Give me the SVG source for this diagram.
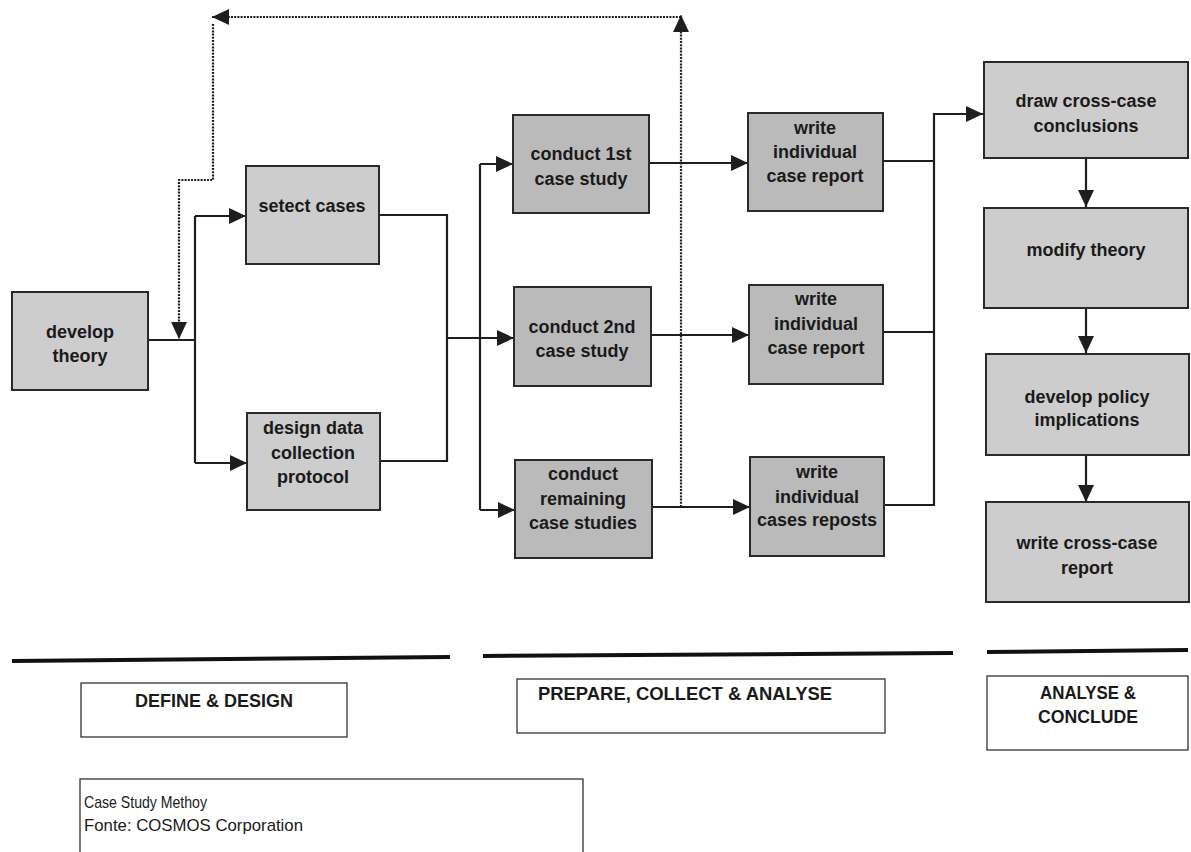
<svg xmlns="http://www.w3.org/2000/svg" width="1191" height="852" viewBox="0 0 1191 852">
<defs>
<marker id="ah" markerUnits="userSpaceOnUse" markerWidth="18" markerHeight="16" refX="17" refY="8" orient="auto" viewBox="0 0 18 16">
<path d="M0,0 L17,8 L0,16 z" fill="#1e1e1e"/>
</marker>
</defs>
<style>
.box{stroke:#2a2a2a;stroke-width:2}
.lt{fill:#cdcdcd}
.dk{fill:#bababa}
.t{font-family:"Liberation Sans",Arial,sans-serif;font-weight:bold;font-size:18px;fill:#1a1a1a;text-anchor:middle}
.c{fill:none;stroke:#1e1e1e;stroke-width:2.2}
.d{fill:none;stroke:#1e1e1e;stroke-width:2.2;stroke-dasharray:2 1.2}
.lbl{fill:#fff;stroke:#333;stroke-width:1.3}
.lt2{font-family:"Liberation Sans",Arial,sans-serif;font-weight:bold;font-size:18px;fill:#1a1a1a;text-anchor:middle}
.n{font-family:"Liberation Sans",Arial,sans-serif;font-size:17px;fill:#1a1a1a}
.bar{stroke:#111;stroke-width:4;fill:none}
</style>
<g id="connectors">
<path class="c" d="M148,340 H195"/>
<path class="c" d="M195,216 V463"/>
<path class="c" d="M195,216 H246" marker-end="url(#ah)"/>
<path class="c" d="M195,463 H247" marker-end="url(#ah)"/>
<path class="c" d="M379,215 H447 V461 H380"/>
<path class="c" d="M447,338 H514" marker-end="url(#ah)"/>
<path class="c" d="M480,164 V510"/>
<path class="c" d="M480,164 H513" marker-end="url(#ah)"/>
<path class="c" d="M480,510 H515" marker-end="url(#ah)"/>
<path class="c" d="M649,163 H748" marker-end="url(#ah)"/>
<path class="c" d="M651,335 H749" marker-end="url(#ah)"/>
<path class="c" d="M652,507 H750" marker-end="url(#ah)"/>
<path class="c" d="M883,161 H934"/>
<path class="c" d="M883,332 H934"/>
<path class="c" d="M884,505 H934 V114 H983" marker-end="url(#ah)"/>
<path class="c" d="M1086,158 V207" marker-end="url(#ah)"/>
<path class="c" d="M1086,308 V353" marker-end="url(#ah)"/>
<path class="c" d="M1086,455 V502" marker-end="url(#ah)"/>
<path class="d" d="M681,507 V15" marker-end="url(#ah)"/>
<path class="d" d="M681,17 H212" marker-end="url(#ah)" style="stroke-width:1.8"/>
<path class="d" d="M213,24 V180 H179 V339" marker-end="url(#ah)"/>
</g>
<g id="develop-theory"><rect class="box lt" x="12" y="292" width="136" height="98"/><text class="t" x="80" y="338">develop</text><text class="t" x="80" y="362">theory</text></g>
<g id="select-cases"><rect class="box lt" x="246" y="166" width="133" height="98"/><text class="t" x="312" y="212">setect cases</text></g>
<g id="design-data"><rect class="box lt" x="247" y="413" width="133" height="97"/><text class="t" x="313" y="434">design data</text><text class="t" x="313" y="459">collection</text><text class="t" x="313" y="483">protocol</text></g>
<g id="conduct-1st"><rect class="box dk" x="513" y="115" width="136" height="98"/><text class="t" x="581" y="160">conduct 1st</text><text class="t" x="581" y="185">case study</text></g>
<g id="conduct-2nd"><rect class="box dk" x="514" y="287" width="137" height="99"/><text class="t" x="582" y="333">conduct 2nd</text><text class="t" x="582" y="357">case study</text></g>
<g id="conduct-remaining"><rect class="box dk" x="515" y="460" width="137" height="98"/><text class="t" x="583" y="480">conduct</text><text class="t" x="583" y="505">remaining</text><text class="t" x="583" y="529">case studies</text></g>
<g id="write-1"><rect class="box dk" x="748" y="113" width="135" height="98"/><text class="t" x="815" y="134">write</text><text class="t" x="815" y="158">individual</text><text class="t" x="815" y="182">case report</text></g>
<g id="write-2"><rect class="box dk" x="749" y="285" width="134" height="99"/><text class="t" x="816" y="305">write</text><text class="t" x="816" y="330">individual</text><text class="t" x="816" y="354">case report</text></g>
<g id="write-3"><rect class="box dk" x="750" y="457" width="134" height="99"/><text class="t" x="817" y="478">write</text><text class="t" x="817" y="503">individual</text><text class="t" x="817" y="526">cases reposts</text></g>
<g id="draw-cross-case"><rect class="box lt" x="984" y="62" width="204" height="96"/><text class="t" x="1086" y="107">draw cross-case</text><text class="t" x="1086" y="132">conclusions</text></g>
<g id="modify-theory"><rect class="box lt" x="984" y="208" width="204" height="100"/><text class="t" x="1086" y="256">modify theory</text></g>
<g id="develop-policy"><rect class="box lt" x="986" y="354" width="203" height="101"/><text class="t" x="1087" y="403">develop policy</text><text class="t" x="1087" y="426">implications</text></g>
<g id="write-cross-case"><rect class="box lt" x="986" y="502" width="203" height="100"/><text class="t" x="1087" y="549">write cross-case</text><text class="t" x="1087" y="574">report</text></g>
<path class="bar" d="M12,661 L450,657"/>
<path class="bar" d="M483,656 L953,653"/>
<path class="bar" d="M987,652 L1188,650"/>
<g id="define-design"><rect class="lbl" x="81" y="683" width="266" height="54"/><text class="lt2" x="214" y="707" textLength="158" lengthAdjust="spacingAndGlyphs">DEFINE &amp; DESIGN</text></g>
<g id="prepare"><rect class="lbl" x="517" y="679" width="368" height="54"/><text class="lt2" x="685" y="700" textLength="294" lengthAdjust="spacingAndGlyphs">PREPARE, COLLECT &amp; ANALYSE</text></g>
<g id="analyse"><rect class="lbl" x="987" y="676" width="201" height="74"/><text class="lt2" x="1088" y="699" textLength="96" lengthAdjust="spacingAndGlyphs">ANALYSE &amp;</text><text class="lt2" x="1088" y="723" textLength="100" lengthAdjust="spacingAndGlyphs">CONCLUDE</text></g>
<g id="caption"><rect class="lbl" x="80" y="779" width="503" height="80"/><text class="n" x="84" y="808" textLength="123" lengthAdjust="spacingAndGlyphs">Case Study Methoy</text><text class="n" x="84" y="831" textLength="219" lengthAdjust="spacingAndGlyphs">Fonte: COSMOS Corporation</text></g>
</svg>
